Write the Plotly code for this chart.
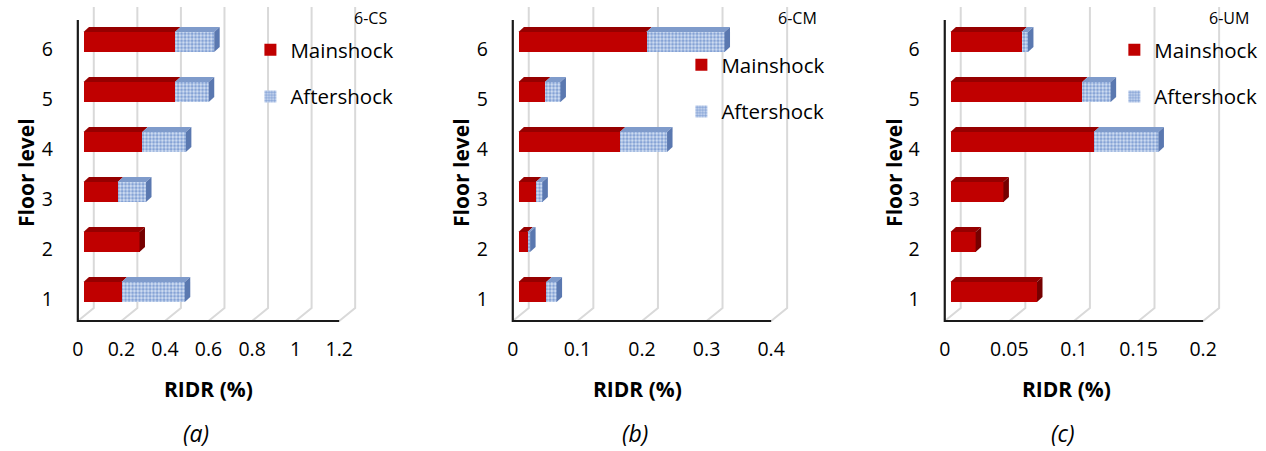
import plotly.graph_objects as go

# ---- data -------------------------------------------------------------
floors = [1, 2, 3, 4, 5, 6]
floor_labels = ["1", "2", "3", "4", "5", "6"]

# residual inter-storey drift ratio, RIDR (%), floors 1..6
cs_main = [0.175, 0.257, 0.157, 0.270, 0.420, 0.420]
cs_after = [0.290, 0.0, 0.130, 0.200, 0.155, 0.180]
cm_main = [0.043, 0.014, 0.027, 0.157, 0.041, 0.198]
cm_after = [0.016, 0.004, 0.010, 0.073, 0.024, 0.121]
um_main = [0.067, 0.0195, 0.041, 0.111, 0.102, 0.055]
um_after = [0.0, 0.0, 0.0, 0.050, 0.022, 0.005]

cs_ticks = [0, 0.2, 0.4, 0.6, 0.8, 1.0, 1.2]
cs_tick_text = ["0", "0.2", "0.4", "0.6", "0.8", "1", "1.2"]
cm_ticks = [0, 0.1, 0.2, 0.3, 0.4]
cm_tick_text = ["0", "0.1", "0.2", "0.3", "0.4"]
um_ticks = [0, 0.05, 0.1, 0.15, 0.2]
um_tick_text = ["0", "0.05", "0.1", "0.15", "0.2"]

panel_names = ["6-CS", "6-CM", "6-UM"]
captions = ["(a)", "(b)", "(c)"]
series_names = ["Mainshock", "Aftershock"]

# ---- look -------------------------------------------------------------
W, H = 1266, 451
FONT = "Open Sans"
RED, RED_TOP, RED_SIDE = "#C00000", "#960000", "#760000"
BLUE_BG, BLUE_FG = "#D3E0F3", "#3864B8"
BLUE_TOP, BLUE_SIDE = "#7F9BCB", "#5A78B0"
GRID = "#D9D9D9"

# pixel geometry of each panel: x of value 0 and x of the last tick on the
# front plane, plus label / legend anchors
panels = [
    dict(main=cs_main, after=cs_after, ticks=cs_ticks, text=cs_tick_text,
         x0=75, x1=337, ytitle_x=23, title_x=350, legend_x=248, legend_y=30,
         cap_x=193, ridr_x=206),
    dict(main=cm_main, after=cm_after, ticks=cm_ticks, text=cm_tick_text,
         x0=511, x1=770, ytitle_x=459, title_x=775, legend_x=680, legend_y=45,
         cap_x=633, ridr_x=636),
    dict(main=um_main, after=um_after, ticks=um_ticks, text=um_tick_text,
         x0=944, x1=1203, ytitle_x=893, title_x=1207, legend_x=1114, legend_y=30,
         cap_x=1063, ridr_x=1066),
]

# vertical pixel mapping: floor k sits at 349 - 50k on the front plane,
# bars (mid-depth) are raised a few pixels
Y_TOP_PX, Y_BOT_PX = 4, 324
FLOOR_FRONT_PX, FLOOR_BACK_PX, GRID_TOP_PX, AXIS_TOP_PX = 321, 308, 7, 20
ROW_PX = 50.0


def yk_front(px):
    return (349 - px) / ROW_PX


def yk_bar(px):
    return (342 - px) / ROW_PX


GRID_DX_PX = 16      # depth offset of the back wall
BAR_SHIFT_PX = 5.7   # bars start slightly behind the front plane
BAR_DX_PX, BAR_DY_PX = 5.5, 5.0
BAR_W = 0.4

fig = go.Figure()
shapes, annotations = [], []
layout_axes = {}
ydomain = [(H - Y_BOT_PX) / H, (H - Y_TOP_PX) / H]

for i, p in enumerate(panels):
    n = i + 1
    fx, fy = ("x" if n == 1 else f"x{n}"), ("y" if n == 1 else f"y{n}")
    bx, by = f"x{n + 3}", f"y{n + 3}"
    xmax = p["ticks"][-1]
    s = (p["x1"] - p["x0"]) / xmax  # px per unit
    left_px, right_px = p["x0"] - 3, p["x1"] + GRID_DX_PX + 4
    xr = [-3 / s, xmax + (GRID_DX_PX + 4) / s]
    shift = BAR_SHIFT_PX / s

    sfx = "" if n == 1 else str(n)
    layout_axes[f"xaxis{sfx}"] = dict(
        domain=[left_px / W, right_px / W], range=xr, anchor=fy,
        tickvals=p["ticks"], ticktext=p["text"], showgrid=False,
        zeroline=False, showline=False, ticks="", ticklabelstandoff=11,
        tickfont=dict(size=19.5, color="#000", family=FONT), fixedrange=True)
    layout_axes[f"yaxis{sfx}"] = dict(
        domain=ydomain, range=[yk_front(Y_BOT_PX), yk_front(Y_TOP_PX)],
        anchor=fx, tickvals=floors, ticktext=floor_labels, showgrid=False,
        zeroline=False, showline=False, ticks="", ticklabelstandoff=21,
        tickfont=dict(size=19.5, color="#000", family=FONT), fixedrange=True)
    layout_axes[f"xaxis{n + 3}"] = dict(
        overlaying=fx, anchor=by, range=[xr[0] - shift, xr[1] - shift],
        visible=False, fixedrange=True)
    layout_axes[f"yaxis{n + 3}"] = dict(
        overlaying=fy, anchor=bx,
        range=[yk_bar(Y_BOT_PX), yk_bar(Y_TOP_PX)], visible=False,
        fixedrange=True)

    # back wall + floor grid lines
    gdx = GRID_DX_PX / s
    yf, yb, yt = yk_front(FLOOR_FRONT_PX), yk_front(FLOOR_BACK_PX), yk_front(GRID_TOP_PX)
    for t in p["ticks"]:
        shapes.append(dict(type="path", xref=fx, yref=fy, layer="below",
                           path=f"M{t},{yf} L{t + gdx},{yb} L{t + gdx},{yt}",
                           line=dict(color=GRID, width=2)))
    # front axis frame
    shapes.append(dict(type="path", xref=fx, yref=fy, layer="above",
                       path=f"M0,{yk_front(AXIS_TOP_PX)} L0,{yf} L{xmax},{yf}",
                       line=dict(color="#1A1A1A", width=2.2)))

    leg = "legend" if n == 1 else f"legend{n}"
    fig.add_trace(go.Bar(
        y=floors, x=p["main"], orientation="h", width=BAR_W, name=series_names[0],
        marker=dict(color=RED, line=dict(width=0)), xaxis=bx, yaxis=by,
        legend=leg, legendgroup=f"m{n}", hoverinfo="x+y"))
    fig.add_trace(go.Bar(
        y=floors, x=p["after"], orientation="h", width=BAR_W, name=series_names[1],
        marker=dict(color=BLUE_BG, line=dict(width=0),
                    pattern=dict(shape=".", fgcolor=BLUE_FG, size=3.5, solidity=0.55)),
        xaxis=bx, yaxis=by, legend=leg, legendgroup=f"a{n}", hoverinfo="x+y"))

    # extruded top and end faces of each stacked bar
    ddx, ddy = BAR_DX_PX / s, BAR_DY_PX / ROW_PX
    for k, m, a in zip(floors, p["main"], p["after"]):
        top, bot = k + BAR_W / 2, k - BAR_W / 2
        shapes.append(dict(type="path", xref=bx, yref=by, layer="above",
                           path=f"M0,{top} L{m},{top} L{m + ddx},{top + ddy} L{ddx},{top + ddy} Z",
                           fillcolor=RED_TOP, line=dict(width=0)))
        if a > 0:
            shapes.append(dict(type="path", xref=bx, yref=by, layer="above",
                               path=f"M{m},{top} L{m + a},{top} L{m + a + ddx},{top + ddy} L{m + ddx},{top + ddy} Z",
                               fillcolor=BLUE_TOP, line=dict(width=0)))
        end = m + a
        shapes.append(dict(type="path", xref=bx, yref=by, layer="above",
                           path=f"M{end},{bot} L{end},{top} L{end + ddx},{top + ddy} L{end + ddx},{bot + ddy} Z",
                           fillcolor=BLUE_SIDE if a > 0 else RED_SIDE, line=dict(width=0)))

    layout_axes[leg] = dict(
        x=p["legend_x"] / W, y=1 - p["legend_y"] / H, xanchor="left", yanchor="top",
        bgcolor="rgba(0,0,0,0)", font=dict(size=20.5, color="#000", family=FONT),
        tracegroupgap=17, traceorder="grouped")

    annotations += [
        dict(text=panel_names[i], x=p["title_x"] / W, y=1 - 18 / H, xref="paper",
             yref="paper", xanchor="left", yanchor="middle", showarrow=False,
             font=dict(size=16, color="#000", family=FONT)),
        dict(text="<b>Floor level</b>", x=p["ytitle_x"] / W, y=1 - 172 / H,
             xref="paper", yref="paper", textangle=-90, showarrow=False,
             xanchor="center", yanchor="middle",
             font=dict(size=21, color="#000", family=FONT)),
        dict(text="<b>RIDR (%)</b>", x=p["ridr_x"] / W, y=1 - 389 / H,
             xref="paper", yref="paper", showarrow=False, xanchor="center",
             yanchor="middle", font=dict(size=21, color="#000", family=FONT)),
        dict(text=f"<i>{captions[i]}</i>", x=p["cap_x"] / W, y=1 - 433 / H,
             xref="paper", yref="paper", showarrow=False, xanchor="center",
             yanchor="middle", font=dict(size=23, color="#000", family=FONT)),
    ]

fig.update_layout(
    width=W, height=H, margin=dict(l=0, r=0, t=0, b=0),
    paper_bgcolor="white", plot_bgcolor="rgba(0,0,0,0)",
    barmode="stack", bargap=0, showlegend=True,
    font=dict(family=FONT, color="#000"),
    shapes=shapes, annotations=annotations, **layout_axes)

fig.write_html("out.html")
